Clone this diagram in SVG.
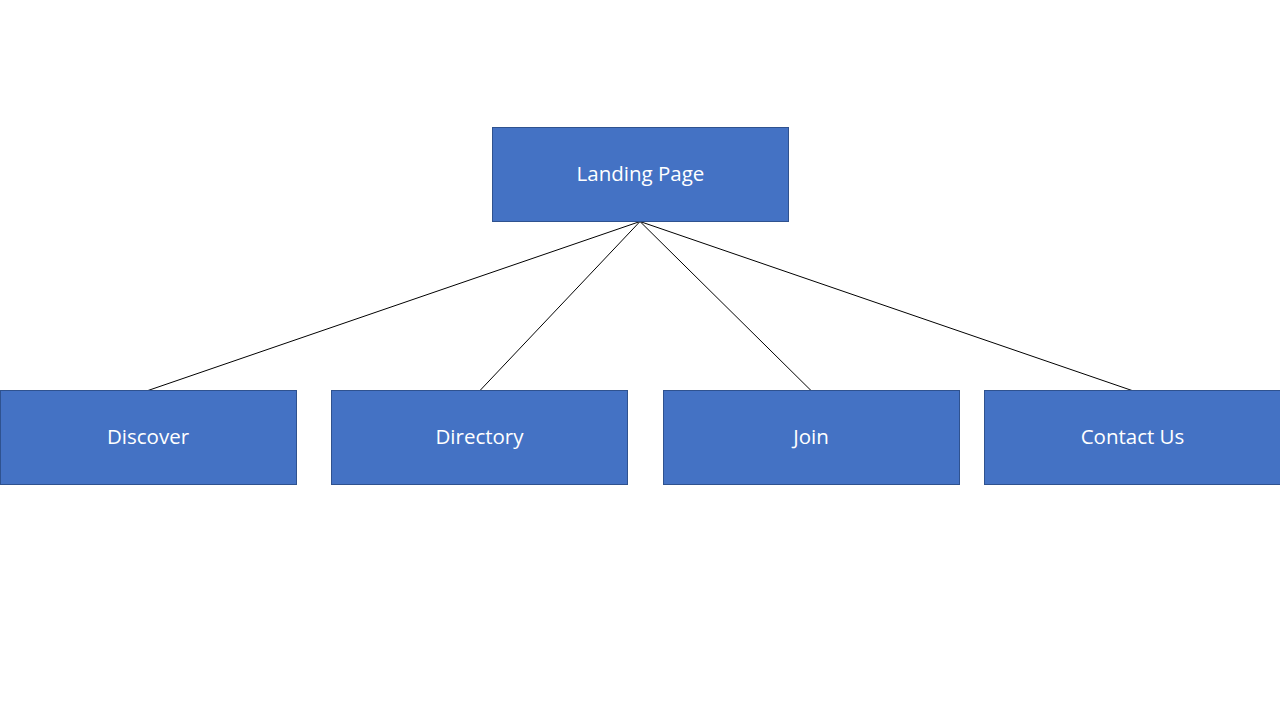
<svg xmlns="http://www.w3.org/2000/svg" width="1280" height="720" viewBox="0 0 1280 720">
<style>
.box{fill:#4472C4;stroke:#2F528F;stroke-width:1}
.lbl{fill:#FFFFFF;font-family:"Open Sans","Liberation Sans",sans-serif;font-size:20.5px;text-anchor:middle}
.conn{stroke:#000000;stroke-width:1;fill:none}
</style>
<rect width="1280" height="720" fill="#FFFFFF"/>
<g id="connectors">
<line class="conn" x1="640" y1="221.5" x2="148" y2="390.5"/>
<line class="conn" x1="640" y1="221.5" x2="480" y2="390.5"/>
<line class="conn" x1="640" y1="221.5" x2="811" y2="390.5"/>
<line class="conn" x1="640" y1="221.5" x2="1132" y2="390.5"/>
</g>
<g id="landing">
<rect class="box" x="492.5" y="127.5" width="296" height="94"/>
<text class="lbl" x="640.5" y="181">Landing Page</text>
</g>
<g id="discover">
<rect class="box" x="0.5" y="390.5" width="296" height="94"/>
<text class="lbl" x="148" y="444">Discover</text>
</g>
<g id="directory">
<rect class="box" x="331.5" y="390.5" width="296" height="94"/>
<text class="lbl" x="479.5" y="444">Directory</text>
</g>
<g id="join">
<rect class="box" x="663.5" y="390.5" width="296" height="94"/>
<text class="lbl" x="811" y="444">Join</text>
</g>
<g id="contact">
<rect class="box" x="984.5" y="390.5" width="296" height="94"/>
<text class="lbl" x="1132.5" y="444">Contact Us</text>
</g>
</svg>
